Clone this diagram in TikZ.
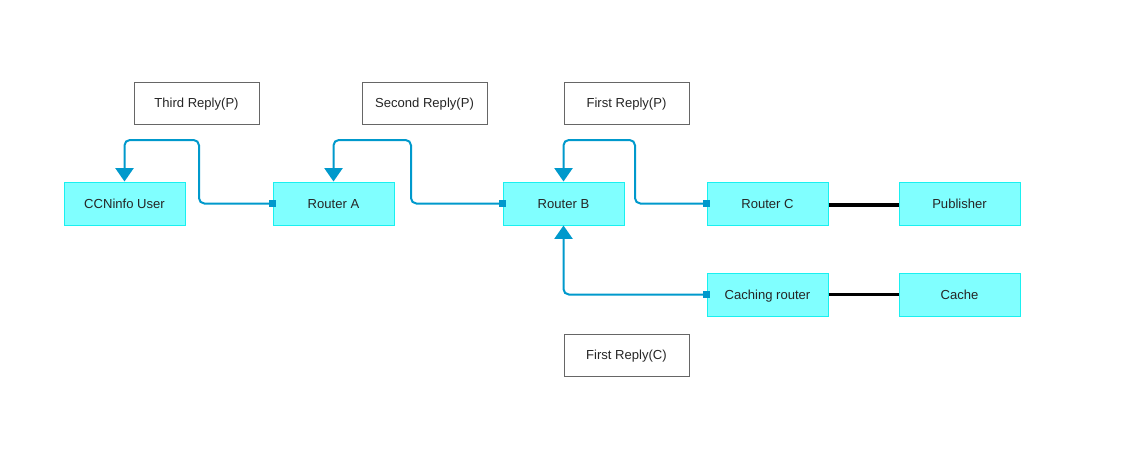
\documentclass[tikz,border=0pt]{standalone}
\usepackage{fontspec}
\setmainfont{Liberation Sans}
\usetikzlibrary{arrows.meta}
\definecolor{boxfill}{HTML}{80FFFF}
\definecolor{boxline}{HTML}{1AF0F0}
\definecolor{flow}{HTML}{0099CC}
\definecolor{lbl}{HTML}{666666}
\tikzset{
  txt/.style={font=\fontsize{9.8}{11}\selectfont, text=black!85, text height=7pt, text depth=0pt, inner sep=0pt},
  dev/.style={txt, draw=boxline, fill=boxfill, line width=0.75pt, minimum width=90.75pt, minimum height=32.25pt},
  tag/.style={txt, draw=lbl, fill=white, line width=0.6pt, minimum width=93.75pt, minimum height=31.5pt},
  reply/.style={draw=flow, line width=1.5pt, rounded corners=4pt, -{Triangle[length=10pt,width=13.5pt]}, shorten <=-2pt},
  startsq/.style={fill=flow, draw=none, minimum size=5pt, inner sep=0pt},
  link/.style={draw=black, line width=2.4pt},
}
\begin{document}
\begin{tikzpicture}[x=0.75pt,y=-0.75pt]
\useasboundingbox (0,0) rectangle (1125,457);
% devices
\node[dev] (user) at (124.5,203.5) {CCNinfo User};
\node[dev] (ra) at (333.5,203.5) {Router A};
\node[dev] (rb) at (563.5,203.5) {Router B};
\node[dev] (rc) at (767.5,203.5) {Router C};
\node[dev] (pub) at (959.5,203.5) {Publisher};
\node[dev] (cr) at (767.5,294.5) {Caching router};
\node[dev] (cache) at (959.5,294.5) {Cache};
% labels
\node[tag] (t3) at (196.5,103) {Third Reply(P)};
\node[tag] (t2) at (424.5,103) {Second Reply(P)};
\node[tag] (t1) at (626.5,103) {First Reply(P)};
\node[tag] (tc) at (626.5,355) {First Reply(C)};
% start squares
\node[startsq] (sa) at (ra.west) {};
\node[startsq] (sb) at (rb.west) {};
\node[startsq] (sc) at (rc.west) {};
\node[startsq] (scr) at (cr.west) {};
% links
\draw[link] (rc.east) ++(0,1.5) coordinate (rcl) -- (rcl -| pub.west);
\draw[link] (cr.east) -- (cache.west);
% reply paths
\draw[reply] (ra.west) -| (199,140) -| (user.north);
\draw[reply] (rb.west) -| (411,140) -| (ra.north);
\draw[reply] (rc.west) -| (635,140) -| (rb.north);
\draw[reply] (cr.west) -| (rb.south);
\end{tikzpicture}
\end{document}
